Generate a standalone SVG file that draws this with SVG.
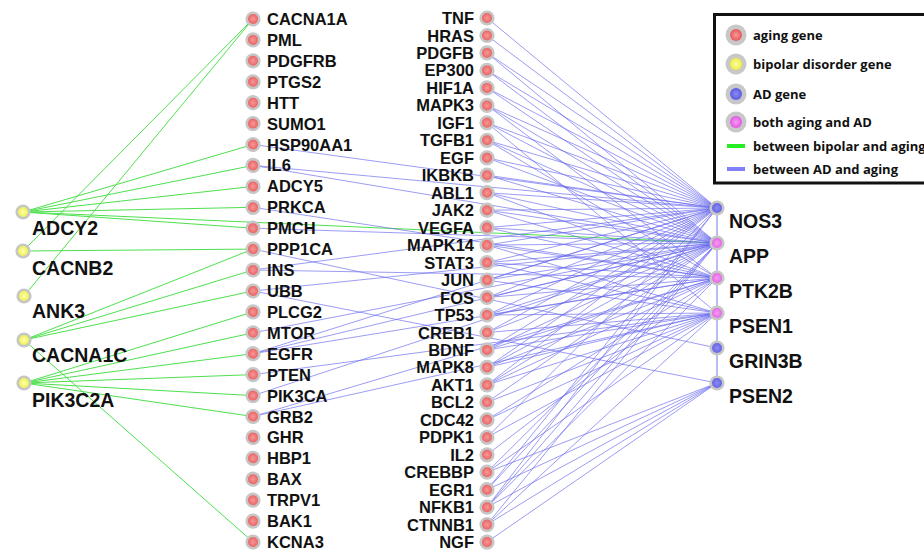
<svg xmlns="http://www.w3.org/2000/svg" width="924" height="551" viewBox="0 0 924 551">
<defs>
<radialGradient id="gR"><stop offset="0" stop-color="#f69898"/><stop offset="1" stop-color="#e85858"/></radialGradient>
<radialGradient id="gY"><stop offset="0" stop-color="#ffffb0"/><stop offset="1" stop-color="#ecec3c"/></radialGradient>
<radialGradient id="gB"><stop offset="0" stop-color="#8c8cf2"/><stop offset="1" stop-color="#5a5ae4"/></radialGradient>
<radialGradient id="gM"><stop offset="0" stop-color="#f49cf4"/><stop offset="1" stop-color="#e258e2"/></radialGradient>
<style>
.n{stroke:#c6c6c6;stroke-width:2.6}
.ag{fill:url(#gR)}
.bp{fill:url(#gY)}
.ad{fill:url(#gB)}
.bo{fill:url(#gM)}
.t{font-family:"Liberation Sans",Arial,sans-serif;font-weight:bold;font-size:16.5px;fill:#111}
.tm{text-anchor:end}
.tb{font-family:"Liberation Sans",Arial,sans-serif;font-weight:bold;font-size:19.5px;fill:#111}
.lg{font-family:"Open Sans","Liberation Sans",sans-serif;font-weight:bold;font-size:13px;fill:#111}
.g line{stroke:#4ee04e;stroke-width:1}
.b line{stroke:#6666ee;stroke-width:0.9;stroke-opacity:0.72}
</style>
</defs>
<rect width="924" height="551" fill="#fff"/>
<g id="connectors">
<line x1="717" y1="208" x2="717" y2="383" stroke="#a8acf0" stroke-width="1.6"/>
<g class="g">
<line x1="23" y1="251" x2="253" y2="19"/>
<line x1="24" y1="296" x2="253" y2="19"/>
<line x1="23" y1="251" x2="253" y2="249.1"/>
<line x1="23" y1="212" x2="253" y2="144.5"/>
<line x1="23" y1="212" x2="253" y2="165.4"/>
<line x1="23" y1="212" x2="253" y2="186.4"/>
<line x1="23" y1="212" x2="253" y2="207.3"/>
<line x1="23" y1="212" x2="253" y2="228.2"/>
<line x1="23" y1="212" x2="717" y2="243"/>
<line x1="24" y1="340" x2="253" y2="249.1"/>
<line x1="24" y1="340" x2="253" y2="270"/>
<line x1="24" y1="340" x2="253" y2="291"/>
<line x1="24" y1="340" x2="253" y2="542"/>
<line x1="24" y1="383" x2="253" y2="311.9"/>
<line x1="24" y1="383" x2="253" y2="332.8"/>
<line x1="24" y1="383" x2="253" y2="353.7"/>
<line x1="24" y1="383" x2="253" y2="374.6"/>
<line x1="24" y1="383" x2="253" y2="395.6"/>
<line x1="24" y1="383" x2="253" y2="416.5"/>
</g>
<g class="b">
<line x1="253" y1="144.5" x2="717" y2="208"/>
<line x1="253" y1="165.4" x2="717" y2="208"/>
<line x1="253" y1="165.4" x2="717" y2="243"/>
<line x1="253" y1="207.3" x2="717" y2="278"/>
<line x1="253" y1="228.2" x2="717" y2="243"/>
<line x1="253" y1="249.1" x2="717" y2="348"/>
<line x1="253" y1="270" x2="717" y2="208"/>
<line x1="253" y1="270" x2="717" y2="278"/>
<line x1="253" y1="291" x2="717" y2="243"/>
<line x1="253" y1="291" x2="717" y2="383"/>
<line x1="253" y1="332.8" x2="717" y2="243"/>
<line x1="253" y1="353.7" x2="717" y2="208"/>
<line x1="253" y1="353.7" x2="717" y2="243"/>
<line x1="253" y1="353.7" x2="717" y2="278"/>
<line x1="253" y1="374.6" x2="717" y2="313"/>
<line x1="253" y1="395.6" x2="717" y2="243"/>
<line x1="253" y1="416.5" x2="717" y2="278"/>
<line x1="253" y1="416.5" x2="717" y2="313"/>
<line x1="487" y1="18" x2="717" y2="208"/>
<line x1="487" y1="35.5" x2="717" y2="208"/>
<line x1="487" y1="52.9" x2="717" y2="208"/>
<line x1="487" y1="52.9" x2="717" y2="243"/>
<line x1="487" y1="70.4" x2="717" y2="208"/>
<line x1="487" y1="70.4" x2="717" y2="243"/>
<line x1="487" y1="87.9" x2="717" y2="208"/>
<line x1="487" y1="87.9" x2="717" y2="243"/>
<line x1="487" y1="105.4" x2="717" y2="208"/>
<line x1="487" y1="105.4" x2="717" y2="243"/>
<line x1="487" y1="105.4" x2="717" y2="278"/>
<line x1="487" y1="122.8" x2="717" y2="208"/>
<line x1="487" y1="122.8" x2="717" y2="243"/>
<line x1="487" y1="122.8" x2="717" y2="313"/>
<line x1="487" y1="140.3" x2="717" y2="208"/>
<line x1="487" y1="140.3" x2="717" y2="243"/>
<line x1="487" y1="140.3" x2="717" y2="278"/>
<line x1="487" y1="157.8" x2="717" y2="208"/>
<line x1="487" y1="157.8" x2="717" y2="243"/>
<line x1="487" y1="175.2" x2="717" y2="208"/>
<line x1="487" y1="175.2" x2="717" y2="243"/>
<line x1="487" y1="192.7" x2="717" y2="208"/>
<line x1="487" y1="192.7" x2="717" y2="243"/>
<line x1="487" y1="192.7" x2="717" y2="278"/>
<line x1="487" y1="210.2" x2="717" y2="208"/>
<line x1="487" y1="210.2" x2="717" y2="243"/>
<line x1="487" y1="210.2" x2="717" y2="278"/>
<line x1="487" y1="227.6" x2="717" y2="208"/>
<line x1="487" y1="227.6" x2="717" y2="243"/>
<line x1="487" y1="227.6" x2="717" y2="278"/>
<line x1="487" y1="245.1" x2="717" y2="208"/>
<line x1="487" y1="245.1" x2="717" y2="243"/>
<line x1="487" y1="245.1" x2="717" y2="278"/>
<line x1="487" y1="245.1" x2="717" y2="313"/>
<line x1="487" y1="262.6" x2="717" y2="208"/>
<line x1="487" y1="262.6" x2="717" y2="243"/>
<line x1="487" y1="262.6" x2="717" y2="278"/>
<line x1="487" y1="262.6" x2="717" y2="313"/>
<line x1="487" y1="280.1" x2="717" y2="208"/>
<line x1="487" y1="280.1" x2="717" y2="243"/>
<line x1="487" y1="280.1" x2="717" y2="313"/>
<line x1="487" y1="297.5" x2="717" y2="208"/>
<line x1="487" y1="297.5" x2="717" y2="243"/>
<line x1="487" y1="297.5" x2="717" y2="278"/>
<line x1="487" y1="315" x2="717" y2="208"/>
<line x1="487" y1="315" x2="717" y2="243"/>
<line x1="487" y1="315" x2="717" y2="278"/>
<line x1="487" y1="315" x2="717" y2="313"/>
<line x1="487" y1="332.5" x2="717" y2="208"/>
<line x1="487" y1="332.5" x2="717" y2="243"/>
<line x1="487" y1="332.5" x2="717" y2="313"/>
<line x1="487" y1="349.9" x2="717" y2="208"/>
<line x1="487" y1="349.9" x2="717" y2="243"/>
<line x1="487" y1="349.9" x2="717" y2="278"/>
<line x1="487" y1="349.9" x2="717" y2="313"/>
<line x1="487" y1="367.4" x2="717" y2="208"/>
<line x1="487" y1="367.4" x2="717" y2="243"/>
<line x1="487" y1="367.4" x2="717" y2="278"/>
<line x1="487" y1="367.4" x2="717" y2="313"/>
<line x1="487" y1="384.9" x2="717" y2="208"/>
<line x1="487" y1="384.9" x2="717" y2="243"/>
<line x1="487" y1="384.9" x2="717" y2="278"/>
<line x1="487" y1="384.9" x2="717" y2="313"/>
<line x1="487" y1="402.3" x2="717" y2="243"/>
<line x1="487" y1="402.3" x2="717" y2="313"/>
<line x1="487" y1="419.8" x2="717" y2="278"/>
<line x1="487" y1="419.8" x2="717" y2="313"/>
<line x1="487" y1="437.3" x2="717" y2="208"/>
<line x1="487" y1="437.3" x2="717" y2="313"/>
<line x1="487" y1="454.8" x2="717" y2="278"/>
<line x1="487" y1="472.2" x2="717" y2="243"/>
<line x1="487" y1="472.2" x2="717" y2="313"/>
<line x1="487" y1="472.2" x2="717" y2="383"/>
<line x1="487" y1="489.7" x2="717" y2="208"/>
<line x1="487" y1="489.7" x2="717" y2="243"/>
<line x1="487" y1="489.7" x2="717" y2="383"/>
<line x1="487" y1="507.2" x2="717" y2="208"/>
<line x1="487" y1="507.2" x2="717" y2="243"/>
<line x1="487" y1="507.2" x2="717" y2="278"/>
<line x1="487" y1="507.2" x2="717" y2="383"/>
<line x1="487" y1="524.6" x2="717" y2="243"/>
<line x1="487" y1="524.6" x2="717" y2="313"/>
<line x1="487" y1="524.6" x2="717" y2="383"/>
<line x1="487" y1="542.1" x2="717" y2="383"/>
</g>
</g>
<g id="bipolar-nodes">
<g id="n-ADCY2"><circle class="n bp" cx="23" cy="212" r="6.3"/><text class="tb" x="32" y="235">ADCY2</text></g>
<g id="n-CACNB2"><circle class="n bp" cx="23" cy="251" r="6.3"/><text class="tb" x="32" y="274.5">CACNB2</text></g>
<g id="n-ANK3"><circle class="n bp" cx="24" cy="296" r="6.3"/><text class="tb" x="32" y="318">ANK3</text></g>
<g id="n-CACNA1C"><circle class="n bp" cx="24" cy="340" r="6.3"/><text class="tb" x="32" y="362">CACNA1C</text></g>
<g id="n-PIK3C2A"><circle class="n bp" cx="24" cy="383" r="6.3"/><text class="tb" x="32" y="406.5">PIK3C2A</text></g>
</g>
<g id="aging-left">
<g id="n-CACNA1A"><circle class="n ag" cx="253" cy="19" r="6.3"/><text class="t" x="267" y="25">CACNA1A</text></g>
<g id="n-PML"><circle class="n ag" cx="253" cy="39.9" r="6.3"/><text class="t" x="267" y="45.9">PML</text></g>
<g id="n-PDGFRB"><circle class="n ag" cx="253" cy="60.8" r="6.3"/><text class="t" x="267" y="66.8">PDGFRB</text></g>
<g id="n-PTGS2"><circle class="n ag" cx="253" cy="81.8" r="6.3"/><text class="t" x="267" y="87.8">PTGS2</text></g>
<g id="n-HTT"><circle class="n ag" cx="253" cy="102.7" r="6.3"/><text class="t" x="267" y="108.7">HTT</text></g>
<g id="n-SUMO1"><circle class="n ag" cx="253" cy="123.6" r="6.3"/><text class="t" x="267" y="129.6">SUMO1</text></g>
<g id="n-HSP90AA1"><circle class="n ag" cx="253" cy="144.5" r="6.3"/><text class="t" x="267" y="150.5">HSP90AA1</text></g>
<g id="n-IL6"><circle class="n ag" cx="253" cy="165.4" r="6.3"/><text class="t" x="267" y="171.4">IL6</text></g>
<g id="n-ADCY5"><circle class="n ag" cx="253" cy="186.4" r="6.3"/><text class="t" x="267" y="192.4">ADCY5</text></g>
<g id="n-PRKCA"><circle class="n ag" cx="253" cy="207.3" r="6.3"/><text class="t" x="267" y="213.3">PRKCA</text></g>
<g id="n-PMCH"><circle class="n ag" cx="253" cy="228.2" r="6.3"/><text class="t" x="267" y="234.2">PMCH</text></g>
<g id="n-PPP1CA"><circle class="n ag" cx="253" cy="249.1" r="6.3"/><text class="t" x="267" y="255.1">PPP1CA</text></g>
<g id="n-INS"><circle class="n ag" cx="253" cy="270" r="6.3"/><text class="t" x="267" y="276">INS</text></g>
<g id="n-UBB"><circle class="n ag" cx="253" cy="291" r="6.3"/><text class="t" x="267" y="297">UBB</text></g>
<g id="n-PLCG2"><circle class="n ag" cx="253" cy="311.9" r="6.3"/><text class="t" x="267" y="317.9">PLCG2</text></g>
<g id="n-MTOR"><circle class="n ag" cx="253" cy="332.8" r="6.3"/><text class="t" x="267" y="338.8">MTOR</text></g>
<g id="n-EGFR"><circle class="n ag" cx="253" cy="353.7" r="6.3"/><text class="t" x="267" y="359.7">EGFR</text></g>
<g id="n-PTEN"><circle class="n ag" cx="253" cy="374.6" r="6.3"/><text class="t" x="267" y="380.6">PTEN</text></g>
<g id="n-PIK3CA"><circle class="n ag" cx="253" cy="395.6" r="6.3"/><text class="t" x="267" y="401.6">PIK3CA</text></g>
<g id="n-GRB2"><circle class="n ag" cx="253" cy="416.5" r="6.3"/><text class="t" x="267" y="422.5">GRB2</text></g>
<g id="n-GHR"><circle class="n ag" cx="253" cy="437.4" r="6.3"/><text class="t" x="267" y="443.4">GHR</text></g>
<g id="n-HBP1"><circle class="n ag" cx="253" cy="458.3" r="6.3"/><text class="t" x="267" y="464.3">HBP1</text></g>
<g id="n-BAX"><circle class="n ag" cx="253" cy="479.2" r="6.3"/><text class="t" x="267" y="485.2">BAX</text></g>
<g id="n-TRPV1"><circle class="n ag" cx="253" cy="500.2" r="6.3"/><text class="t" x="267" y="506.2">TRPV1</text></g>
<g id="n-BAK1"><circle class="n ag" cx="253" cy="521.1" r="6.3"/><text class="t" x="267" y="527.1">BAK1</text></g>
<g id="n-KCNA3"><circle class="n ag" cx="253" cy="542" r="6.3"/><text class="t" x="267" y="548">KCNA3</text></g>
</g>
<g id="aging-middle">
<g id="n-TNF"><circle class="n ag" cx="487" cy="18" r="6.3"/><text class="t tm" x="474" y="24">TNF</text></g>
<g id="n-HRAS"><circle class="n ag" cx="487" cy="35.5" r="6.3"/><text class="t tm" x="474" y="41.5">HRAS</text></g>
<g id="n-PDGFB"><circle class="n ag" cx="487" cy="52.9" r="6.3"/><text class="t tm" x="474" y="58.9">PDGFB</text></g>
<g id="n-EP300"><circle class="n ag" cx="487" cy="70.4" r="6.3"/><text class="t tm" x="474" y="76.4">EP300</text></g>
<g id="n-HIF1A"><circle class="n ag" cx="487" cy="87.9" r="6.3"/><text class="t tm" x="474" y="93.9">HIF1A</text></g>
<g id="n-MAPK3"><circle class="n ag" cx="487" cy="105.4" r="6.3"/><text class="t tm" x="474" y="111.4">MAPK3</text></g>
<g id="n-IGF1"><circle class="n ag" cx="487" cy="122.8" r="6.3"/><text class="t tm" x="474" y="128.8">IGF1</text></g>
<g id="n-TGFB1"><circle class="n ag" cx="487" cy="140.3" r="6.3"/><text class="t tm" x="474" y="146.3">TGFB1</text></g>
<g id="n-EGF"><circle class="n ag" cx="487" cy="157.8" r="6.3"/><text class="t tm" x="474" y="163.8">EGF</text></g>
<g id="n-IKBKB"><circle class="n ag" cx="487" cy="175.2" r="6.3"/><text class="t tm" x="474" y="181.2">IKBKB</text></g>
<g id="n-ABL1"><circle class="n ag" cx="487" cy="192.7" r="6.3"/><text class="t tm" x="474" y="198.7">ABL1</text></g>
<g id="n-JAK2"><circle class="n ag" cx="487" cy="210.2" r="6.3"/><text class="t tm" x="474" y="216.2">JAK2</text></g>
<g id="n-VEGFA"><circle class="n ag" cx="487" cy="227.6" r="6.3"/><text class="t tm" x="474" y="233.6">VEGFA</text></g>
<g id="n-MAPK14"><circle class="n ag" cx="487" cy="245.1" r="6.3"/><text class="t tm" x="474" y="251.1">MAPK14</text></g>
<g id="n-STAT3"><circle class="n ag" cx="487" cy="262.6" r="6.3"/><text class="t tm" x="474" y="268.6">STAT3</text></g>
<g id="n-JUN"><circle class="n ag" cx="487" cy="280.1" r="6.3"/><text class="t tm" x="474" y="286.1">JUN</text></g>
<g id="n-FOS"><circle class="n ag" cx="487" cy="297.5" r="6.3"/><text class="t tm" x="474" y="303.5">FOS</text></g>
<g id="n-TP53"><circle class="n ag" cx="487" cy="315" r="6.3"/><text class="t tm" x="474" y="321">TP53</text></g>
<g id="n-CREB1"><circle class="n ag" cx="487" cy="332.5" r="6.3"/><text class="t tm" x="474" y="338.5">CREB1</text></g>
<g id="n-BDNF"><circle class="n ag" cx="487" cy="349.9" r="6.3"/><text class="t tm" x="474" y="355.9">BDNF</text></g>
<g id="n-MAPK8"><circle class="n ag" cx="487" cy="367.4" r="6.3"/><text class="t tm" x="474" y="373.4">MAPK8</text></g>
<g id="n-AKT1"><circle class="n ag" cx="487" cy="384.9" r="6.3"/><text class="t tm" x="474" y="390.9">AKT1</text></g>
<g id="n-BCL2"><circle class="n ag" cx="487" cy="402.3" r="6.3"/><text class="t tm" x="474" y="408.3">BCL2</text></g>
<g id="n-CDC42"><circle class="n ag" cx="487" cy="419.8" r="6.3"/><text class="t tm" x="474" y="425.8">CDC42</text></g>
<g id="n-PDPK1"><circle class="n ag" cx="487" cy="437.3" r="6.3"/><text class="t tm" x="474" y="443.3">PDPK1</text></g>
<g id="n-IL2"><circle class="n ag" cx="487" cy="454.8" r="6.3"/><text class="t tm" x="474" y="460.8">IL2</text></g>
<g id="n-CREBBP"><circle class="n ag" cx="487" cy="472.2" r="6.3"/><text class="t tm" x="474" y="478.2">CREBBP</text></g>
<g id="n-EGR1"><circle class="n ag" cx="487" cy="489.7" r="6.3"/><text class="t tm" x="474" y="495.7">EGR1</text></g>
<g id="n-NFKB1"><circle class="n ag" cx="487" cy="507.2" r="6.3"/><text class="t tm" x="474" y="513.2">NFKB1</text></g>
<g id="n-CTNNB1"><circle class="n ag" cx="487" cy="524.6" r="6.3"/><text class="t tm" x="474" y="530.6">CTNNB1</text></g>
<g id="n-NGF"><circle class="n ag" cx="487" cy="542.1" r="6.3"/><text class="t tm" x="474" y="548.1">NGF</text></g>
</g>
<g id="ad-nodes">
<g id="n-NOS3"><circle class="n ad" cx="717" cy="208" r="6.3"/><text class="tb" x="729" y="227.5">NOS3</text></g>
<g id="n-APP"><circle class="n bo" cx="717" cy="243" r="6.3"/><text class="tb" x="729" y="262.5">APP</text></g>
<g id="n-PTK2B"><circle class="n bo" cx="717" cy="278" r="6.3"/><text class="tb" x="729" y="297.5">PTK2B</text></g>
<g id="n-PSEN1"><circle class="n bo" cx="717" cy="313" r="6.3"/><text class="tb" x="729" y="332.5">PSEN1</text></g>
<g id="n-GRIN3B"><circle class="n ad" cx="717" cy="348" r="6.3"/><text class="tb" x="729" y="367.5">GRIN3B</text></g>
<g id="n-PSEN2"><circle class="n ad" cx="717" cy="383" r="6.3"/><text class="tb" x="729" y="402.5">PSEN2</text></g>
</g>
<g id="legend">
<rect x="714.5" y="14.5" width="215" height="168.5" fill="#fff" stroke="#111" stroke-width="3"/>
<circle cx="736" cy="35" r="10.5" fill="#c8c8c8"/><circle cx="736" cy="35" r="6" fill="url(#gR)"/>
<text class="lg" x="753" y="39.5">aging gene</text>
<circle cx="736" cy="64" r="10.5" fill="#c8c8c8"/><circle cx="736" cy="64" r="6" fill="url(#gY)"/>
<text class="lg" x="753" y="68.5">bipolar disorder gene</text>
<circle cx="736" cy="94" r="10.5" fill="#c8c8c8"/><circle cx="736" cy="94" r="6" fill="url(#gB)"/>
<text class="lg" x="753" y="98.5">AD gene</text>
<circle cx="736" cy="122" r="10.5" fill="#c8c8c8"/><circle cx="736" cy="122" r="6" fill="url(#gM)"/>
<text class="lg" x="753" y="126.5">both aging and AD</text>
<rect x="727" y="144" width="18" height="4" fill="#22ee22"/>
<text class="lg" x="753" y="150.5">between bipolar and aging</text>
<rect x="727" y="167" width="18" height="4" fill="#8080ff"/>
<text class="lg" x="753" y="173.5">between AD and aging</text>
</g>
</svg>
